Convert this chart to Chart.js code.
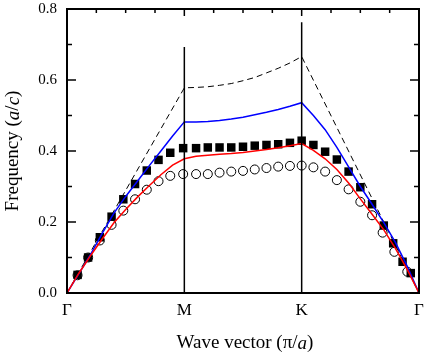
<!DOCTYPE html>
<html>
<head>
<meta charset="utf-8">
<script src="https://cdn.jsdelivr.net/npm/chart.js@4.4.1/dist/chart.umd.min.js"></script>
<style>
html,body{margin:0;padding:0;background:#fff;}
canvas{display:block;}
</style>
</head>
<body>
<canvas id="c" width="425" height="354"></canvas>
<script>
// ---- data ----
const xTickValues = [0, 1, 2, 3];
const xTickLabels = ['Γ', 'M', 'K', 'Γ'];
const yMajorTicks = [0, 0.2, 0.4, 0.6, 0.8];
const yMinorTicks = [0.1, 0.3, 0.5, 0.7];
const topTicks = [0.25, 0.5, 0.75, 1, 1.25, 1.5, 1.75, 2, 2.25, 2.5, 2.75];

// axis titles: [text, italic]
const xTitleParts = [['Wave vector (π/', false], ['a', true], [')', false]];
const yTitleParts = [['Frequency (', false], ['a', true], ['/', false], ['c', true], [')', false]];

const dashX = [0, 1, 1.1, 1.2, 1.3, 1.4, 1.5, 1.6, 1.7, 1.8, 1.9, 2, 3];
const dashY = [0, 0.578, 0.579, 0.581, 0.585, 0.59, 0.598, 0.607, 0.62, 0.633, 0.648, 0.666, 0];

const lineX = [0, 0.1, 0.2, 0.3, 0.4, 0.5, 0.6, 0.7, 0.8, 0.9, 1,
               1.1, 1.2, 1.3, 1.4, 1.5, 1.6, 1.7, 1.8, 1.9, 2,
               2.1, 2.2, 2.3, 2.4, 2.5, 2.6, 2.7, 2.8, 2.9, 3];
const blueY = [0, 0.054, 0.108, 0.168, 0.225, 0.272, 0.315, 0.358, 0.4, 0.442, 0.482,
               0.482, 0.483, 0.486, 0.49, 0.495, 0.502, 0.509, 0.517, 0.526, 0.536,
               0.5, 0.46, 0.41, 0.355, 0.3, 0.25, 0.198, 0.142, 0.075, 0];
const redY  = [0, 0.055, 0.105, 0.152, 0.198, 0.235, 0.27, 0.302, 0.333, 0.36, 0.378,
               0.385, 0.388, 0.391, 0.393, 0.396, 0.4, 0.404, 0.409, 0.415, 0.421,
               0.402, 0.378, 0.348, 0.31, 0.265, 0.222, 0.178, 0.125, 0.066, 0];

const sqX = [0.09, 0.18, 0.28, 0.38, 0.48, 0.58, 0.68, 0.78, 0.88, 0.99,
             1.1, 1.2, 1.3, 1.4, 1.5, 1.6, 1.7, 1.8, 1.9, 2.0,
             2.1, 2.2, 2.3, 2.4, 2.5, 2.6, 2.7, 2.78, 2.86, 2.93];
const sqY = [0.051, 0.1, 0.157, 0.215, 0.264, 0.307, 0.345, 0.375, 0.395, 0.408,
             0.408, 0.41, 0.41, 0.41, 0.412, 0.415, 0.417, 0.419, 0.423, 0.429,
             0.417, 0.398, 0.376, 0.342, 0.298, 0.25, 0.19, 0.14, 0.088, 0.056];

const ciX = [0.09, 0.18, 0.28, 0.38, 0.48, 0.58, 0.68, 0.78, 0.88, 0.99,
             1.1, 1.2, 1.3, 1.4, 1.5, 1.6, 1.7, 1.8, 1.9, 2.0,
             2.1, 2.2, 2.3, 2.4, 2.5, 2.6, 2.69, 2.79, 2.9];
const ciY = [0.05, 0.1, 0.148, 0.192, 0.232, 0.264, 0.291, 0.315, 0.33, 0.335,
             0.335, 0.335, 0.339, 0.342, 0.344, 0.348, 0.352, 0.356, 0.358, 0.359,
             0.354, 0.342, 0.318, 0.292, 0.257, 0.219, 0.17, 0.116, 0.06];

const mLineX = [1, 1], mLineY = [0, 0.693];
const kLineX = [2, 2], kLineY = [0, 0.763];

const pts = (xs, ys) => xs.map((x, i) => ({x, y: ys[i]}));
const SERIF = '"Liberation Serif", "Times New Roman", serif';
const TITLE_SIZE = 19;

function drawMixed(ctx, parts, cx, cy, rot) {
  ctx.save();
  ctx.translate(cx, cy);
  ctx.rotate(rot);
  ctx.textBaseline = 'middle';
  ctx.textAlign = 'left';
  ctx.fillStyle = '#000';
  const items = parts.map(([t, it]) => {
    ctx.font = (it ? 'italic ' : '') + TITLE_SIZE + 'px ' + SERIF;
    return {t, font: ctx.font, w: ctx.measureText(t).width};
  });
  let x = -items.reduce((s, p) => s + p.w, 0) / 2;
  items.forEach(p => { ctx.font = p.font; ctx.fillText(p.t, x, 0); x += p.w; });
  ctx.restore();
}

const framePlugin = {
  id: 'frame',
  afterDatasetsDraw(chart) {
    const {ctx, chartArea: {left, right, top, bottom}, scales: {x, y}} = chart;
    ctx.save();
    ctx.strokeStyle = '#000';
    ctx.lineCap = 'butt';
    const seg = (x1, y1, x2, y2) => { ctx.beginPath(); ctx.moveTo(x1, y1); ctx.lineTo(x2, y2); ctx.stroke(); };
    ctx.lineWidth = 1.5;
    yMajorTicks.forEach(v => { const p = y.getPixelForValue(v); seg(left, p, left + 9, p); seg(right, p, right - 9, p); });
    yMinorTicks.forEach(v => { const p = y.getPixelForValue(v); seg(left, p, left + 5, p); seg(right, p, right - 5, p); });
    topTicks.forEach(v => { const p = x.getPixelForValue(v); const len = Number.isInteger(v) ? 7 : 4; seg(p, top, p, top + len); });
    ctx.lineWidth = 2;
    ctx.strokeRect(left, top, right - left, bottom - top);
    ctx.restore();
  },
  afterDraw(chart) {
    const {ctx, chartArea: {left, right, top, bottom}} = chart;
    drawMixed(ctx, xTitleParts, (left + right) / 2 + 2, chart.height - 10.5, 0);
    drawMixed(ctx, yTitleParts, 13.5, (top + bottom) / 2, -Math.PI / 2);
  }
};

new Chart(document.getElementById('c'), {
  type: 'scatter',
  data: {
    datasets: [
      {data: pts(mLineX, mLineY), showLine: true, borderColor: '#000', borderWidth: 1.5, pointRadius: 0, order: 0},
      {data: pts(kLineX, kLineY), showLine: true, borderColor: '#000', borderWidth: 1.5, pointRadius: 0, order: 0},
      {data: pts(lineX, redY), showLine: true, borderColor: '#ff0000', borderWidth: 1.5, pointRadius: 0, order: 1},
      {data: pts(lineX, blueY), showLine: true, borderColor: '#0000ff', borderWidth: 1.5, pointRadius: 0, order: 2},
      {data: pts(dashX, dashY), showLine: true, borderColor: '#000', borderWidth: 1, borderDash: [6, 4], pointRadius: 0, order: 3},
      {data: pts(sqX, sqY), pointStyle: 'rect', pointRadius: 6, backgroundColor: '#000', borderColor: '#000', borderWidth: 0, order: 4},
      {data: pts(ciX, ciY), pointStyle: 'circle', pointRadius: 4.5, backgroundColor: 'rgba(0,0,0,0)', borderColor: '#000', borderWidth: 1, order: 5}
    ]
  },
  options: {
    responsive: false,
    devicePixelRatio: 1,
    animation: false,
    events: [],
    layout: {padding: {left: 0, right: 6, top: 9, bottom: 0}},
    plugins: {legend: {display: false}, tooltip: {enabled: false}},
    scales: {
      x: {
        type: 'linear', min: 0, max: 3,
        grid: {display: false, drawTicks: false},
        border: {display: false},
        afterBuildTicks: s => { s.ticks = xTickValues.map(v => ({value: v})); },
        afterFit: s => { s.height = 61; s.paddingLeft = 0; s.paddingRight = 0; },
        ticks: {
          autoSkip: false, maxRotation: 0, padding: 7, color: '#000',
          font: {family: SERIF, size: 17},
          callback: (v, i) => xTickLabels[i]
        },
        title: {display: false}
      },
      y: {
        type: 'linear', min: 0, max: 0.8,
        grid: {display: false, drawTicks: false},
        border: {display: false},
        afterBuildTicks: s => { s.ticks = yMajorTicks.map(v => ({value: v})); },
        afterFit: s => { s.width = 67; s.paddingTop = 0; s.paddingBottom = 0; },
        ticks: {
          padding: 10, color: '#000',
          font: {family: SERIF, size: 15},
          callback: v => Number(v).toFixed(1)
        },
        title: {display: false}
      }
    }
  },
  plugins: [framePlugin]
});
</script>
</body>
</html>
